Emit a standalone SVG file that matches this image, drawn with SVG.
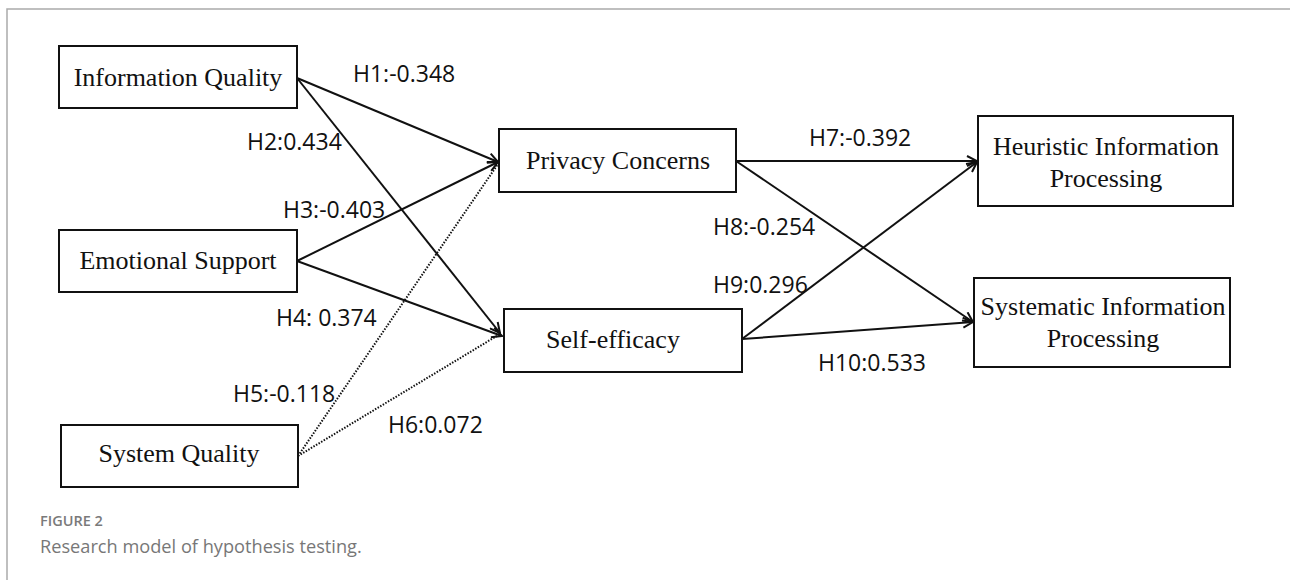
<svg xmlns="http://www.w3.org/2000/svg" width="1290" height="580" viewBox="0 0 1290 580">
<style>
.box{fill:#fff;stroke:#111;stroke-width:2}
.nt{font-family:"Liberation Serif","Times New Roman",serif;font-size:26px;fill:#111;text-anchor:middle}
.lb{font-family:"Open Sans","Noto Sans",sans-serif;font-size:23px;fill:#111}
.ln{stroke:#111;stroke-width:2;fill:none}
.dt{stroke:#111;stroke-width:2;fill:none;stroke-dasharray:1.5,1.5}
.frame{stroke:#aaa;stroke-width:1.5;fill:none}
</style>
<defs>
<marker id="arr" viewBox="0 0 12 12" refX="11" refY="6" markerWidth="12" markerHeight="12" markerUnits="userSpaceOnUse" orient="auto">
<path d="M1,1 L11,6 L1,11" fill="none" stroke="#111" stroke-width="2"/>
</marker>
</defs>
<rect width="1290" height="580" fill="#fff"/>
<path class="frame" d="M7,580 L7,9 L1290,9"/>
<g id="connectors">
<line class="ln" x1="297" y1="78" x2="498" y2="162" marker-end="url(#arr)"/>
<line class="ln" x1="297" y1="78" x2="500" y2="333" marker-end="url(#arr)"/>
<line class="ln" x1="297" y1="261" x2="498" y2="162" marker-end="url(#arr)"/>
<line class="ln" x1="297" y1="261" x2="502" y2="336" marker-end="url(#arr)"/>
<line class="dt" x1="298" y1="456" x2="498" y2="164"/>
<line class="dt" x1="298" y1="456" x2="500" y2="334"/>
<line class="ln" x1="736" y1="161" x2="977" y2="161" marker-end="url(#arr)"/>
<line class="ln" x1="736" y1="161" x2="973" y2="322" marker-end="url(#arr)"/>
<line class="ln" x1="742" y1="339" x2="977" y2="162" marker-end="url(#arr)"/>
<line class="ln" x1="742" y1="339" x2="973" y2="322" marker-end="url(#arr)"/>
</g>
<g id="labels">
<text class="lb" x="353" y="82">H1:-0.348</text>
<text class="lb" x="247" y="150">H2:0.434</text>
<text class="lb" x="283" y="218">H3:-0.403</text>
<text class="lb" x="276" y="326">H4: 0.374</text>
<text class="lb" x="233" y="402">H5:-0.118</text>
<text class="lb" x="388" y="433">H6:0.072</text>
<text class="lb" x="809" y="146">H7:-0.392</text>
<text class="lb" x="713" y="235">H8:-0.254</text>
<text class="lb" x="713" y="293">H9:0.296</text>
<text class="lb" x="818" y="371">H10:0.533</text>
</g>
<g id="information-quality">
<rect class="box" x="59" y="46" width="238" height="62"/>
<text class="nt" x="178" y="86">Information Quality</text>
</g>
<g id="emotional-support">
<rect class="box" x="59" y="230" width="238" height="62"/>
<text class="nt" x="178" y="269">Emotional Support</text>
</g>
<g id="system-quality">
<rect class="box" x="61" y="425" width="237" height="62"/>
<text class="nt" x="179" y="462">System Quality</text>
</g>
<g id="privacy-concerns">
<rect class="box" x="499" y="129" width="237" height="63"/>
<text class="nt" x="618" y="169">Privacy Concerns</text>
</g>
<g id="self-efficacy">
<rect class="box" x="504" y="309" width="238" height="63"/>
<text class="nt" x="613" y="348">Self-efficacy</text>
</g>
<g id="heuristic">
<rect class="box" x="978" y="116" width="255" height="90"/>
<text class="nt" x="1106" y="155">Heuristic Information</text>
<text class="nt" x="1106" y="187">Processing</text>
</g>
<g id="systematic">
<rect class="box" x="974" y="278" width="256" height="89"/>
<text class="nt" x="1103" y="315">Systematic Information</text>
<text class="nt" x="1103" y="347">Processing</text>
</g>
<g id="caption">
<text x="40" y="526" style="font-family:'Open Sans','Noto Sans',sans-serif;font-size:14.5px;font-weight:600;fill:#7a7a7a">FIGURE 2</text>
<text x="40" y="553" style="font-family:'Open Sans','Noto Sans',sans-serif;font-size:18.2px;fill:#777">Research model of hypothesis testing.</text>
</g>
</svg>
